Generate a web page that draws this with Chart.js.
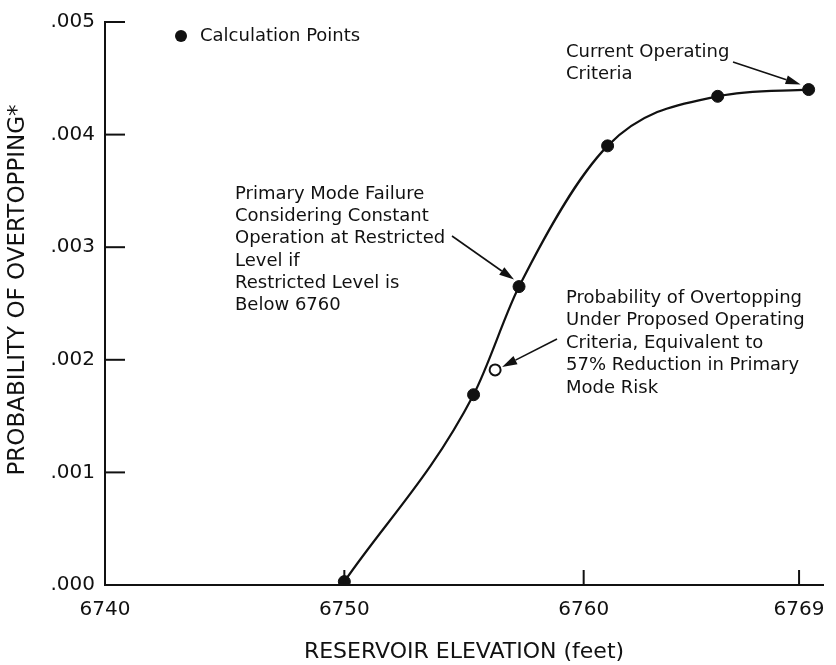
<!DOCTYPE html>
<html>
<head>
<meta charset="utf-8">
<script src="https://cdn.jsdelivr.net/npm/chart.js@4"></script>
<style>
  html, body { margin: 0; padding: 0; background: #fff; }
  #wrap { width: 836px; height: 665px; }
</style>
</head>
<body>
<div id="wrap"><canvas id="chart" width="836" height="665"></canvas></div>
<script>
// Reservoir elevation (feet) vs. probability of overtopping
const elevations    = [6750, 6755.4, 6757.3, 6761.0, 6765.6, 6769.4];
const probabilities = [0.00003, 0.00169, 0.00265, 0.0039, 0.00434, 0.0044];

// Proposed operating criteria (open circle)
const proposedElevation   = [6756.3];
const proposedProbability = [0.00191];

const xTickValues = [6740, 6750, 6760, 6769];
const yTickValues = [0, 0.001, 0.002, 0.003, 0.004, 0.005];

const INK = '#111';
const FONT = "'DejaVu Sans', sans-serif";

const curvePoints = elevations.map((x, i) => ({ x, y: probabilities[i] }));
const proposedPoints = proposedElevation.map((x, i) => ({ x, y: proposedProbability[i] }));

function arrow(ctx, x0, y0, x1, y1) {
  const a = Math.atan2(y1 - y0, x1 - x0);
  const len = 15, half = 4.5;
  const bx = x1 - len * Math.cos(a), by = y1 - len * Math.sin(a);
  ctx.beginPath();
  ctx.moveTo(x0, y0);
  ctx.lineTo(bx, by);
  ctx.lineWidth = 1.6;
  ctx.strokeStyle = INK;
  ctx.stroke();
  ctx.beginPath();
  ctx.moveTo(x1, y1);
  ctx.lineTo(bx + half * Math.sin(a), by - half * Math.cos(a));
  ctx.lineTo(bx - half * Math.sin(a), by + half * Math.cos(a));
  ctx.closePath();
  ctx.fillStyle = INK;
  ctx.fill();
}

// Tick marks pointing into the plot, y title, legend and callouts
const decorations = {
  id: 'decorations',
  afterDraw(chart) {
    const { ctx, chartArea, scales } = chart;
    const xs = scales.x, ys = scales.y;
    ctx.save();
    ctx.strokeStyle = INK;
    ctx.lineWidth = 2;
    yTickValues.forEach(v => {
      if (v === 0) return;
      const py = ys.getPixelForValue(v);
      ctx.beginPath();
      ctx.moveTo(chartArea.left, py);
      ctx.lineTo(chartArea.left + 20, py);
      ctx.stroke();
    });
    xTickValues.forEach(v => {
      if (v === xs.min) return;
      const px = xs.getPixelForValue(v);
      ctx.beginPath();
      ctx.moveTo(px, chartArea.bottom);
      ctx.lineTo(px, chartArea.bottom - 15);
      ctx.stroke();
    });

    ctx.fillStyle = INK;

    // vertical axis title
    ctx.save();
    ctx.translate(18, 290);
    ctx.rotate(-Math.PI / 2);
    ctx.font = `23px ${FONT}`;
    ctx.textAlign = 'center';
    ctx.textBaseline = 'middle';
    ctx.fillText('PROBABILITY OF OVERTOPPING*', 0, 0);
    ctx.restore();

    // legend
    ctx.beginPath();
    ctx.arc(181, 36, 6, 0, Math.PI * 2);
    ctx.fill();
    ctx.font = `18px ${FONT}`;
    ctx.textBaseline = 'middle';
    ctx.textAlign = 'left';
    ctx.fillText('Calculation Points', 200, 36);

    const lines = (arr, x, y0, step) => arr.forEach((t, i) => ctx.fillText(t, x, y0 + i * step));

    lines(['Current Operating', 'Criteria'], 566, 52, 22);
    lines(['Primary Mode Failure', 'Considering Constant', 'Operation at Restricted',
           'Level if', 'Restricted Level is', 'Below 6760'], 235, 194, 22.3);
    lines(['Probability of Overtopping', 'Under Proposed Operating', 'Criteria, Equivalent to',
           '57% Reduction in Primary', 'Mode Risk'], 566, 298, 22.5);

    // callout arrows, heads ending at the data points
    const pt = (x, y) => [xs.getPixelForValue(x), ys.getPixelForValue(y)];
    const [cx, cy] = pt(elevations[5], probabilities[5]);
    arrow(ctx, 733, 62, cx - 8, cy - 5);
    const [rx, ry] = pt(elevations[2], probabilities[2]);
    arrow(ctx, 452, 236, rx - 5, ry - 7);
    const [ox, oy] = pt(proposedElevation[0], proposedProbability[0]);
    arrow(ctx, 557, 339, ox + 7, oy - 3);
    ctx.restore();
  }
};

new Chart(document.getElementById('chart'), {
  type: 'scatter',
  data: {
    datasets: [
      {
        label: 'Calculation Points',
        data: curvePoints,
        showLine: true,
        cubicInterpolationMode: 'monotone',
        borderColor: INK,
        borderWidth: 2.2,
        pointRadius: 6,
        pointBackgroundColor: INK,
        pointBorderColor: INK,
        pointBorderWidth: 1
      },
      {
        label: 'Proposed Operating Criteria',
        data: proposedPoints,
        showLine: false,
        pointRadius: 5.5,
        pointBackgroundColor: '#fff',
        pointBorderColor: INK,
        pointBorderWidth: 2
      }
    ]
  },
  options: {
    responsive: false,
    animation: false,
    devicePixelRatio: 1,
    layout: { padding: { top: 22, right: 13, bottom: 0, left: 0 } },
    plugins: { legend: { display: false }, tooltip: { enabled: false } },
    scales: {
      x: {
        type: 'linear',
        min: 6740,
        max: 6770,
        afterBuildTicks: s => { s.ticks = xTickValues.map(v => ({ value: v })); },
        afterFit: s => { s.height = 80; },
        grid: { display: false },
        border: { display: true, color: INK, width: 2 },
        ticks: {
          color: INK,
          font: { family: FONT, size: 20 },
          padding: 5,
          maxRotation: 0,
          autoSkip: false,
          callback: v => String(v)
        },
        title: {
          display: true,
          text: 'RESERVOIR ELEVATION (feet)',
          color: INK,
          font: { family: FONT, size: 22 },
          padding: { top: 0, bottom: 0 }
        }
      },
      y: {
        type: 'linear',
        min: 0,
        max: 0.005,
        afterBuildTicks: s => { s.ticks = yTickValues.map(v => ({ value: v })); },
        afterFit: s => { s.width = 105; },
        grid: { display: false },
        border: { display: true, color: INK, width: 2 },
        ticks: {
          color: INK,
          font: { family: FONT, size: 20 },
          padding: 2,
          callback: v => v.toFixed(3).replace(/^0/, '')
        }
      }
    }
  },
  plugins: [decorations]
});
</script>
</body>
</html>
